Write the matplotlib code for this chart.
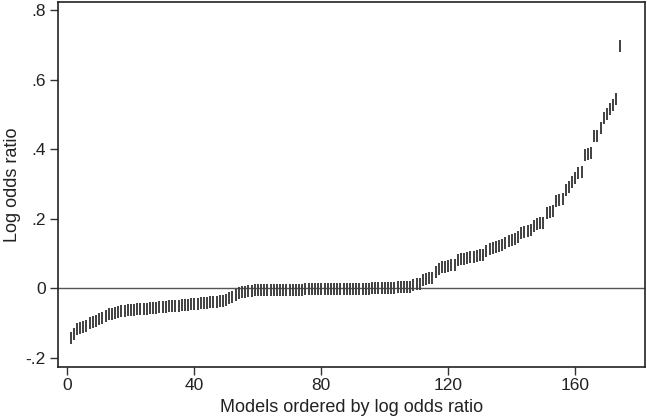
import numpy as np
import matplotlib.pyplot as plt

# log odds ratio per model, already sorted
lor_low = [-0.143, -0.133, -0.118, -0.114, -0.112, -0.108, -0.102, -0.099, -0.096,
           -0.090, -0.087, -0.079, -0.076, -0.074, -0.071, -0.069,
           -0.066, -0.065, -0.064, -0.063, -0.062, -0.061, -0.060, -0.060, -0.059,
           -0.058, -0.057, -0.056, -0.055, -0.055, -0.054, -0.053, -0.052, -0.052, -0.051,
           -0.050, -0.049, -0.048, -0.047, -0.046, -0.045, -0.044, -0.043, -0.042,
           -0.041, -0.040, -0.039, -0.038, -0.036,
           -0.033, -0.029, -0.025, -0.020, -0.015]
lor_mid = [-0.012, -0.010, -0.009, -0.008, -0.007, -0.006,
           -0.006, -0.006, -0.006, -0.006, -0.006, -0.006, -0.005, -0.005, -0.005, -0.005,
           -0.005, -0.005, -0.005, -0.005, -0.004, -0.004, -0.004, -0.004, -0.004,
           -0.004, -0.004, -0.004, -0.003, -0.003, -0.003, -0.003, -0.003, -0.003,
           -0.003, -0.002, -0.002, -0.002, -0.002, -0.002, -0.002, -0.001, -0.001,
           -0.001, -0.001, 0.000, 0.000, 0.001, 0.001, 0.002, 0.002, 0.003, 0.003, 0.004]
lor_high = [0.008, 0.011, 0.013,
            0.022, 0.025, 0.028, 0.030,
            0.045, 0.055, 0.060, 0.062, 0.063, 0.065, 0.067,
            0.080, 0.083, 0.085, 0.087, 0.088, 0.090, 0.092, 0.094, 0.096,
            0.108, 0.112, 0.115, 0.118, 0.121, 0.124,
            0.130, 0.134, 0.138, 0.142, 0.146, 0.158, 0.161, 0.164, 0.167,
            0.180, 0.183, 0.186, 0.188,
            0.215, 0.219, 0.222,
            0.250, 0.253, 0.257,
            0.282, 0.292, 0.306, 0.316,
            0.330, 0.335,
            0.383, 0.386, 0.390,
            0.437, 0.439, 0.461,
            0.490, 0.500, 0.514, 0.528, 0.543,
            0.697]

lor = np.array(lor_low + lor_mid + lor_high)
rank = np.arange(1, len(lor) + 1)

xticks = [0, 40, 80, 120, 160]
yticks = [-0.2, 0, 0.2, 0.4, 0.6, 0.8]
ytick_labels = ['-.2', '0', '.2', '.4', '.6', '.8']

plt.rcParams['font.family'] = ['Liberation Sans', 'DejaVu Sans']

fig = plt.figure(figsize=(6.47, 4.18), dpi=100)
ax = fig.add_axes([0.089, 0.123, 0.908, 0.872])

ax.axhline(0, color='#555555', lw=1.0, zorder=1)
ax.plot(rank, lor, linestyle='none', marker='|', markersize=8,
        markeredgewidth=1.4, color='#404040', zorder=2)

ax.set_xlim(-3.1, 182)
ax.set_ylim(-0.226, 0.823)
ax.set_xticks(xticks)
ax.set_yticks(yticks)
ax.set_yticklabels(ytick_labels)
ax.tick_params(direction='out', length=5.5, width=1, color='#333333',
               labelsize=12.5, pad=3, labelcolor='#222222')
for s in ax.spines.values():
    s.set_color('#222222')
    s.set_linewidth(1.2)

ax.set_xlabel('Models ordered by log odds ratio', fontsize=13, color='#222222', labelpad=4)
ax.set_ylabel('Log odds ratio', fontsize=13, color='#222222')
ax.yaxis.set_label_coords(-0.062, 0.5)

fig.savefig('out.png', dpi=100)
